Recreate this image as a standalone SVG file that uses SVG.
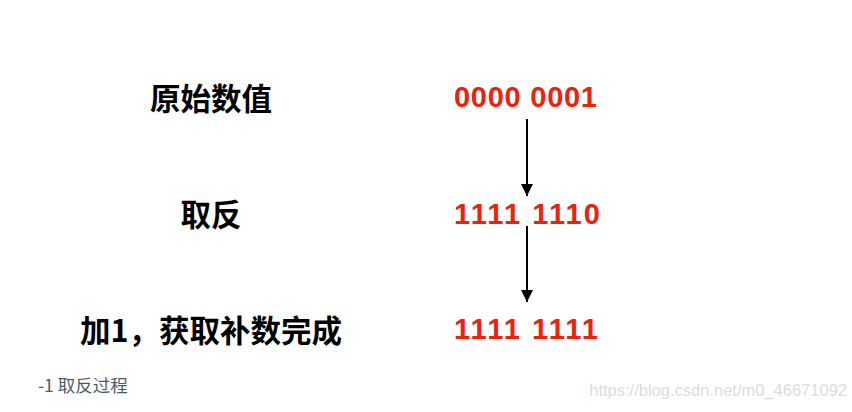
<svg xmlns="http://www.w3.org/2000/svg" width="852" height="412" viewBox="0 0 852 412">
<defs>
<style>
.lbl{font-family:"Noto Sans CJK SC","Liberation Sans",sans-serif;font-weight:bold;font-size:30.5px;fill:#000;text-anchor:middle;dominant-baseline:central}
.num{font-family:"Liberation Sans",Arial,sans-serif;font-weight:bold;font-size:29px;fill:#e8230e}
.conn{stroke:#000;stroke-width:2;fill:none}
</style>
<marker id="ah" viewBox="0 0 12 13" refX="12" refY="6" markerWidth="12" markerHeight="13" markerUnits="userSpaceOnUse" orient="auto">
<path d="M0,0 L12,6 L0,12 Z" fill="#000"/>
</marker>
</defs>
<rect width="852" height="412" fill="#fff"/>
<g id="node-orig"><text class="lbl" x="211" y="97">原始数值</text></g>
<g id="node-inv"><text class="lbl" x="211" y="213">取反</text></g>
<g id="node-add"><text class="lbl" x="211" y="329">加1，获取补数完成</text></g>
<g id="val-orig"><text class="num" x="454" y="107" textLength="143" lengthAdjust="spacing">0000 0001</text></g>
<g id="val-inv"><text class="num" x="454" y="224" textLength="146" lengthAdjust="spacing">1111 1110</text></g>
<g id="val-add"><text class="num" x="454" y="339" textLength="144" lengthAdjust="spacing">1111 1111</text></g>
<g id="connectors">
<line class="conn" x1="527" y1="119" x2="527" y2="196" marker-end="url(#ah)"/>
<line class="conn" x1="527" y1="226" x2="527" y2="302" marker-end="url(#ah)"/>
</g>
<text x="38" y="392" font-family="'Noto Sans CJK SC','Liberation Sans',sans-serif" font-size="17.5" fill="#4d5a6b">-1 取反过程</text>
<text x="847" y="396" text-anchor="end" font-family="'Liberation Sans',Arial,sans-serif" font-size="16.5" fill="#dcdcdc">https://blog.csdn.net/m0_46671092</text>
</svg>
